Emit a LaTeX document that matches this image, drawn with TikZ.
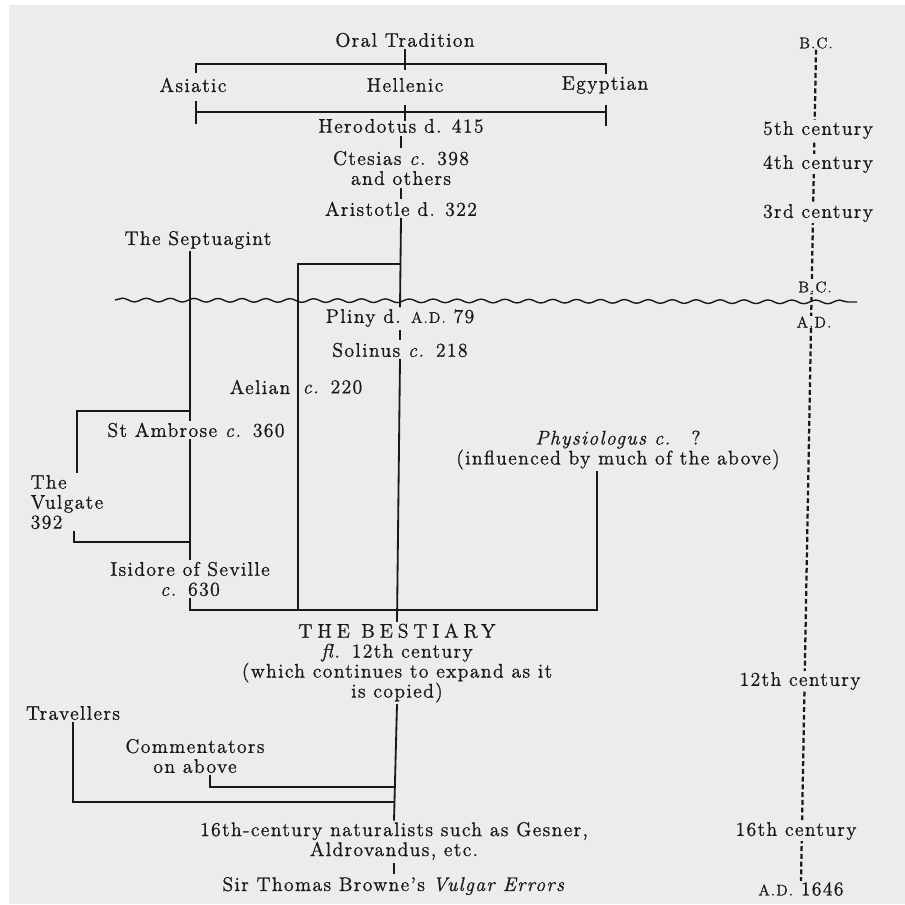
\documentclass[tikz,border=0pt]{standalone}
\usepackage{fontspec}
\setmainfont{lmroman12-regular.otf}[LetterSpace=7,FakeBold=1,ItalicFont=lmroman12-italic.otf,BoldFont=lmroman12-bold.otf]
\usetikzlibrary{decorations.pathmorphing,backgrounds}
\definecolor{paper}{RGB}{236,236,236}
\definecolor{ink}{RGB}{25,25,25}
\newcommand\smallad{{\fontsize{11}{11}\selectfont A.D.}}
\newcommand\smallbc{{\fontsize{11}{11}\selectfont B.C.}}

\begin{document}
\begin{tikzpicture}[x=0.025cm,y=-0.025cm,
  lbl/.style={text=ink,inner sep=1pt,align=center,font=\fontsize{14}{14.2}\selectfont},
  era/.style={lbl,fill=paper,inner sep=0.6pt},
  link/.style={draw=ink,line width=1.3pt},
  tick/.style={link,shorten <=1pt,shorten >=1pt},
  timeline/.style={draw=ink,line width=1.6pt,dash pattern=on 3.5pt off 2pt},
  wave/.style={draw=ink,line width=1pt,decorate,decoration={snake,segment length=17pt,amplitude=1.3pt}}]
\useasboundingbox (0,0) rectangle (905,904);

\node[lbl] (oral) at (405,40) {Oral Tradition};
\node[lbl] (asiatic) at (193,85) {Asiatic};
\node[lbl] (hellenic) at (405,85) {Hellenic};
\node[lbl] (egyptian) at (605,85) {Egyptian};
\node[lbl] (herodotus) at (401,126) {Herodotus d. 415};
\node[lbl] (ctesias) at (401,168) {Ctesias \textit{c.} 398\\and others};
\node[lbl] (aristotle) at (401,209) {Aristotle d. 322};
\node[lbl] (septuagint) at (198,240) {The Septuagint};
\node[lbl] (pliny) at (400,318) {Pliny d. \smallad{} 79};
\node[lbl] (solinus) at (400,350) {Solinus \textit{c.} 218};
\node[lbl,anchor=east] (aelian) at (292,387) {Aelian};
\node[lbl,anchor=west] (aeliandate) at (301,387) {\textit{c.} 220};
\node[lbl] (ambrose) at (196,430) {St Ambrose \textit{c.} 360};
\node[lbl,align=left,anchor=west] (vulgate) at (29,502) {The\\Vulgate\\392};
\node[lbl] (physio) at (618,450) {\textit{Physiologus c.}\quad ?\\(influenced by much of the above)};
\node[lbl] (isidore) at (190,579) {Isidore of Seville\\\textit{c.} 630};
\node[lbl] (bestiary) at (397,663) {{\addfontfeature{LetterSpace=25}THE BESTIARY}\\\textit{fl.} 12th century\\(which continues to expand as it\\is copied)};
\node[lbl] (travellers) at (73,713) {Travellers};
\node[lbl] (comment) at (195,756) {Commentators\\on above};
\node[lbl] (naturalists) at (394,841) {16th-century naturalists such as Gesner,\\Aldrovandus, etc.};
\node[lbl] (browne) at (394,886) {Sir Thomas Browne's \textit{Vulgar Errors}};

\node[era] (bcA) at (816,43) {\smallbc};
\node[era] (cent5) at (818,130) {5th century};
\node[era] (cent4) at (818,164) {4th century};
\node[era] (cent3) at (818,213) {3rd century};
\node[era] (bcB) at (815,287) {\smallbc};
\node[era] (adA) at (814,322) {\smallad};
\node[era] (cent12) at (800,681) {12th century};
\node[era] (cent16) at (796,831) {16th century};
\node[era] (ad1646) at (801,889) {\smallad{} 1646};

\coordinate (tl) at (196,64);
\coordinate (tr) at (606,64);
\coordinate (bl) at (196,112);
\coordinate (br) at (606,112);
\draw[link] (tl) ++(0,9) -- (tl) -- (tr) -- ++(0,10);
\draw[link] (oral.south) -- (oral.south |- tl) -- ++(0,6);
\draw[link] (bl) -- (br);
\draw[link] (bl) ++(0,-11) -- ++(0,23);
\draw[link] (br) ++(0,-7) -- ++(0,21);
\draw[link] (bl -| hellenic) ++(0,-7) -- ++(0,16);

\draw[tick] (herodotus.south) -- (ctesias.north);
\draw[tick] (ctesias.south) -- (aristotle.north);
\draw[link] (aristotle.south) -- (pliny.north);
\draw[tick] (pliny.south) -- (solinus.north);
\draw[link] (solinus.south) -- (bestiary.north);

\coordinate (afork) at (401,264);
\coordinate (ajoin) at (298,610);
\draw[link] (afork) -| (ajoin);

\coordinate (vfork) at (190,411);
\coordinate (vcol) at (77,0);
\coordinate (vbase) at (74,542);
\draw[link] (septuagint.south -| isidore) -- (isidore |- ambrose.north);
\draw[link] (vfork) -| (vulgate.north -| vcol);
\draw[link] (ambrose.south -| isidore) -- (isidore.north);
\draw[link] (vulgate.south -| vbase) -- (vbase) -- (vbase -| isidore);

\coordinate (pjoin) at (597,610);
\draw[link] (physio.south -| pjoin) -- (pjoin) -- (isidore.south |- pjoin) -- (isidore.south);

\coordinate (ccol) at (210,0);
\coordinate (cjoin) at (394,787);
\coordinate (tjoin) at (394,802);
\draw[link] (bestiary.south) -- (naturalists.north);
\draw[link] (comment.south -| ccol) |- (cjoin);
\draw[link] (travellers.south) |- (tjoin);
\draw[tick] (naturalists.south) -- (browne.north);

\coordinate (wl) at (115,300);
\coordinate (wr) at (857,302);
\draw[wave] (wl) -- (wr);

\begin{pgfonlayer}{background}
\fill[white] (0,0) rectangle (905,904);
\fill[paper] (9,5) rectangle (905,904);
\draw[timeline] (bcA.south) -- (ad1646.north);
\end{pgfonlayer}
\end{tikzpicture}
\end{document}
